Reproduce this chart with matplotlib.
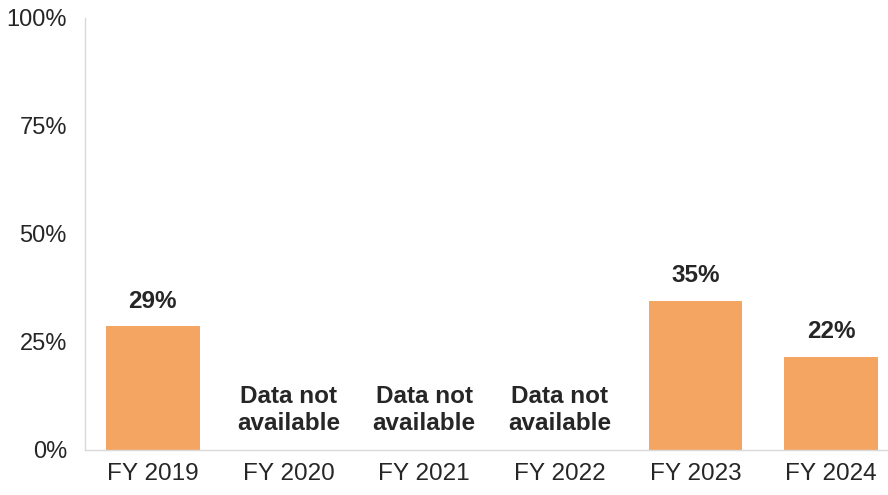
import matplotlib.pyplot as plt
import numpy as np

# ---------------- DATA ----------------
years = ["FY 2019", "FY 2020", "FY 2021", "FY 2022", "FY 2023", "FY 2024"]
shares = [28.6, None, None, None, 34.6, 21.6]
labels = ["29%", None, None, None, "35%", "22%"]
missing_text = "Data not\navailable"

BAR_COLOR = "#F4A562"
TEXT_COLOR = "#262626"

plt.rcParams['font.family'] = ['Liberation Sans', 'DejaVu Sans']

fig = plt.figure(figsize=(8.88, 4.95), dpi=100)
ax = fig.add_axes([85 / 888, 45 / 495, 803 / 888, 432 / 495])

x = np.arange(len(years))
for i, (v, lab) in enumerate(zip(shares, labels)):
    if v is None:
        ax.text(i, 9.3, missing_text, ha='center', va='center',
                fontsize=17.5, fontweight='bold', color=TEXT_COLOR, linespacing=1.22)
        continue
    ax.bar(i, v, width=0.69, color=BAR_COLOR, zorder=2)
    ax.annotate(lab, (i, v), xytext=(0, 10), textcoords='offset points',
                ha='center', va='bottom', fontsize=17.5, fontweight='bold',
                color=TEXT_COLOR)

ax.set_xlim(-0.5, 5.42)
ax.set_ylim(0, 100)
ax.set_xticks(x)
ax.set_xticklabels(years)
ax.set_yticks([0, 25, 50, 75, 100])
ax.set_yticklabels([f"{t}%" for t in [0, 25, 50, 75, 100]])
ax.tick_params(axis='x', length=0, labelsize=17.5, colors=TEXT_COLOR, pad=9)
ax.tick_params(axis='y', length=0, labelsize=17, colors=TEXT_COLOR, pad=13)

for side in ['top', 'right']:
    ax.spines[side].set_visible(False)
for side in ['left', 'bottom']:
    ax.spines[side].set_color('#D9D9D9')
    ax.spines[side].set_linewidth(1)

plt.savefig("out.png", dpi=100)
plt.close()
